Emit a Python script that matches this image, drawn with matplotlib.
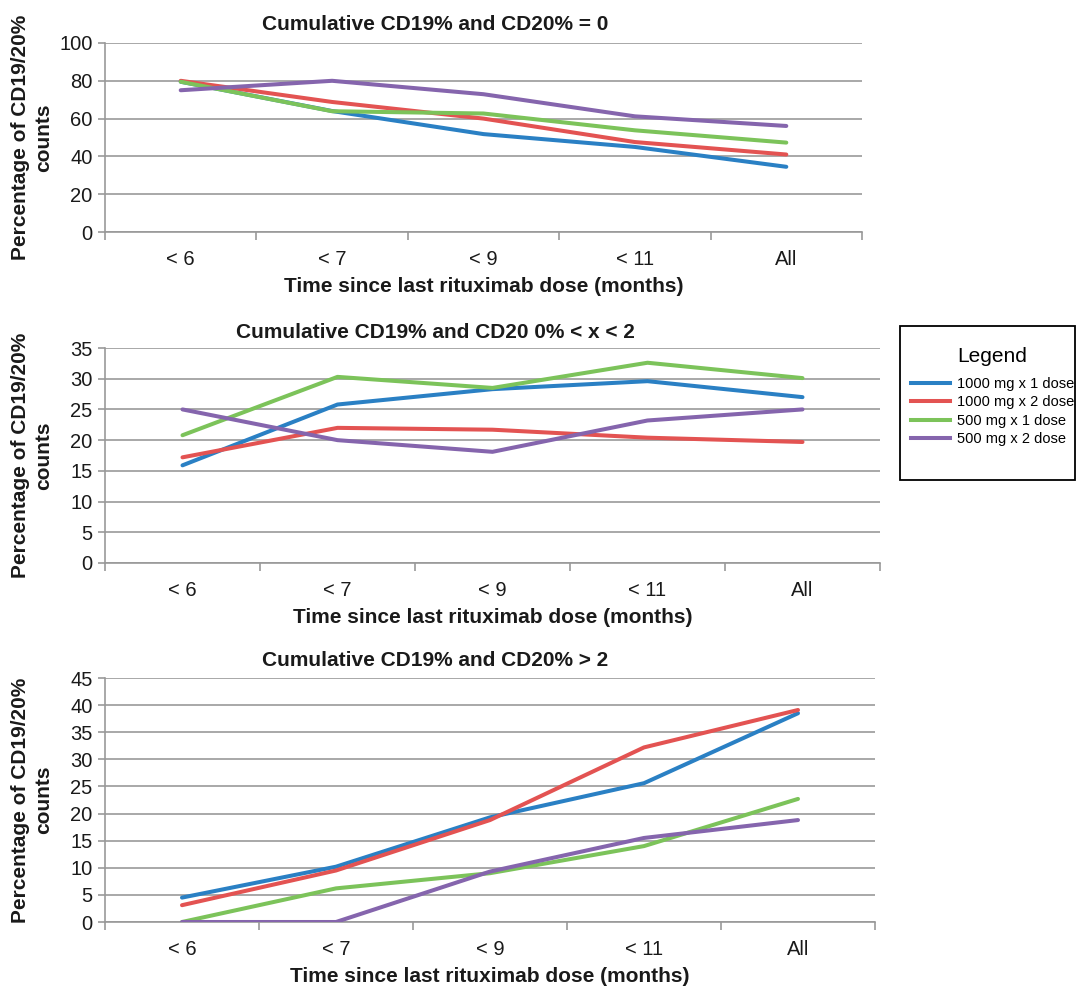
import matplotlib
matplotlib.use("Agg")
import matplotlib.pyplot as plt
import matplotlib.patches as patches
from matplotlib.lines import Line2D
import numpy as np

plt.rcParams["font.family"] = ["Liberation Sans", "DejaVu Sans"]

categories = ["< 6", "< 7", "< 9", "< 11", "All"]
series_names = ["1000 mg x 1 dose", "1000 mg x 2 dose", "500 mg x 1 dose", "500 mg x 2 dose"]
colors = ["#2a80c4", "#e35352", "#7cc35a", "#8565ad"]

# Panel 1: CD19% and CD20% = 0
p1_1000x1 = [79.5, 64.0, 51.8, 45.0, 34.5]
p1_1000x2 = [80.0, 68.8, 60.0, 47.6, 41.0]
p1_500x1 = [79.5, 63.9, 62.7, 53.8, 47.3]
p1_500x2 = [75.0, 80.0, 72.9, 61.2, 56.1]

# Panel 2: 0% < x < 2
p2_1000x1 = [15.9, 25.8, 28.3, 29.6, 27.0]
p2_1000x2 = [17.2, 22.0, 21.7, 20.4, 19.7]
p2_500x1 = [20.8, 30.3, 28.5, 32.6, 30.1]
p2_500x2 = [25.0, 20.0, 18.1, 23.2, 25.0]

# Panel 3: > 2
p3_1000x1 = [4.5, 10.2, 19.3, 25.6, 38.5]
p3_1000x2 = [3.1, 9.5, 18.8, 32.2, 39.1]
p3_500x1 = [0.0, 6.2, 9.0, 14.0, 22.7]
p3_500x2 = [0.0, 0.0, 9.3, 15.5, 18.8]

titles = ["Cumulative CD19% and CD20% = 0",
          "Cumulative CD19% and CD20 0% < x < 2",
          "Cumulative CD19% and CD20% > 2"]
ylims = [(0, 100, 20), (0, 35, 5), (0, 45, 5)]
xlabel = "Time since last rituximab dose (months)"
ylabel = "Percentage of CD19/20%\ncounts"

panels = [
    [p1_1000x1, p1_1000x2, p1_500x1, p1_500x2],
    [p2_1000x1, p2_1000x2, p2_500x1, p2_500x2],
    [p3_1000x1, p3_1000x2, p3_500x1, p3_500x2],
]

W, H = 1076, 990
# axes boxes in pixels: left, top, right, bottom
boxes = [(105, 43, 862, 232), (105, 348, 880, 563), (105, 678, 875, 922)]
title_y = [24, 333, 660]

fig = plt.figure(figsize=(W / 100, H / 100), dpi=100)
GRID = "#999999"

for i, (data, box) in enumerate(zip(panels, boxes)):
    l, t, r, b = box
    ax = fig.add_axes([l / W, 1 - b / H, (r - l) / W, (b - t) / H])
    x = np.arange(len(categories))
    for vals, c in zip(data, colors):
        ax.plot(x, vals, color=c, lw=2.9, solid_capstyle="round", zorder=3)
    lo, hi, step = ylims[i]
    ax.set_ylim(lo, hi)
    ax.set_yticks(np.arange(lo, hi + step / 2, step))
    ax.set_xlim(-0.5, len(categories) - 0.5)
    ax.set_xticks(np.arange(-0.5, len(categories)))
    ax.set_xticklabels([])
    ax.set_xticks(x, minor=True)
    ax.set_xticklabels(categories, minor=True)
    ax.tick_params(axis="x", which="minor", length=0, pad=13, labelsize=14.5,
                   labelcolor="#1a1a1a")
    ax.tick_params(axis="x", which="major", length=6, color=GRID, width=1.2)
    ax.tick_params(axis="y", length=5, color=GRID, width=1.2, labelsize=14.5,
                   pad=4, labelcolor="#1a1a1a")
    ax.grid(axis="y", color=GRID, lw=1.2, zorder=0)
    for s in ["top", "right"]:
        ax.spines[s].set_visible(False)
    for s in ["left", "bottom"]:
        ax.spines[s].set_color(GRID)
        ax.spines[s].set_linewidth(1.2)
    ax.set_xlabel(xlabel, fontsize=15, fontweight="bold", labelpad=6,
                  color="#1a1a1a")
    fig.text(32 / W, 1 - (t + b) / 2 / H, ylabel, rotation=90, ha="center",
             va="center", fontsize=15, fontweight="bold", linespacing=1.25,
             color="#1a1a1a")
    fig.text(435 / W, 1 - title_y[i] / H, titles[i], ha="center", va="center",
             fontsize=15, fontweight="bold", color="#1a1a1a")

# legend box
fig.patches.append(patches.Rectangle((900 / W, 1 - 480 / H), 175 / W, 154 / H,
                                     transform=fig.transFigure, fill=False,
                                     edgecolor="black", linewidth=1.3))
handles = [Line2D([0], [0], color=c, lw=2.9) for c in colors]
leg = fig.legend(handles, series_names, title="Legend", loc="upper left",
                 bbox_to_anchor=(900 / W, 1 - 336 / H), frameon=False,
                 fontsize=10.5, title_fontsize=15, handlelength=2.7,
                 handletextpad=0.45, labelspacing=0.3, borderpad=0.75,
                 borderaxespad=0)
leg._legend_box.sep = 8

fig.savefig("out.png", dpi=100)
